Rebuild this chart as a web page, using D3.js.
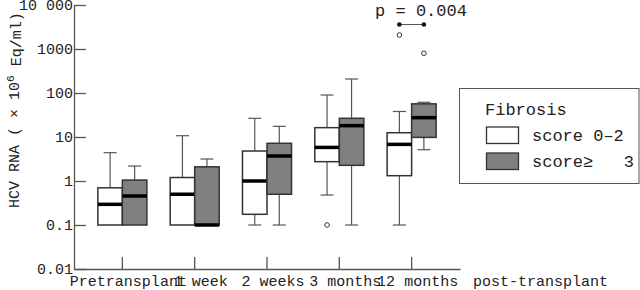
<!DOCTYPE html>
<html>
<head>
<meta charset="utf-8">
<script src="https://cdn.jsdelivr.net/npm/d3@7"></script>
<style>
    body { margin: 0; background: #fff; }
    svg text { font-family: "Liberation Mono", "Courier New", monospace; fill: #222; }
</style>
</head>
<body>
<div id="chart"></div>
<script>

// categories along x
let categories = ["Pretransplant", "1 week", "2 weeks", "3 months", "12 months"];
let groups = ["score 0\u20132", "score\u2265   3"];

// box stats per category: [min, q1, median, q3, max]
let lowScore = [
    [0.1, 0.1, 0.295, 0.70, 4.4],
    [0.1, 0.1, 0.50, 1.2, 10.7],
    [0.1, 0.175, 1.0, 4.8, 26.6],
    [0.48, 2.75, 5.8, 16.3, 90],
    [0.1, 1.32, 6.8, 12.5, 38]
];
let highScore = [
    [0.1, 0.1, 0.456, 1.05, 2.19],
    [0.1, 0.1, 0.1, 2.1, 3.16],
    [0.1, 0.5, 3.7, 7.2, 17.5],
    [0.1, 2.27, 18.1, 26.6, 208],
    [5.15, 9.8, 27.5, 56.7, 61.5]
];

// outliers: [category index, group index, value]
let outliers = [
    [3, 0, 0.1],
    [4, 0, 2080],
    [4, 1, 800]
];

let yTicks = [0.01, 0.1, 1, 10, 100, 1000, 10000];
let yTickLabels = ["0.01", "0.1", "1", "10", "100", "1000", "10 000"];

let pValue = {category: 4, value: 3600, label: "p = 0.004"};

let fills = ["#ffffff", "#808080"];

let width = 640, height = 290;

let svg = d3.select("#chart").append("svg")
    .attr("width", width)
    .attr("height", height);

// scales
let x = d3.scaleBand()
    .domain(categories)
    .range([74, 460])
    .paddingInner(0.322)
    .paddingOuter(0.33);

let xSub = d3.scaleBand()
    .domain(groups)
    .range([0, x.bandwidth()]);

let y = d3.scaleLog()
    .domain([0.01, 10000])
    .range([269, 5]);

// axes
let yAxis = d3.axisLeft(y)
    .tickValues(yTicks)
    .tickFormat((d, i) => yTickLabels[i])
    .tickSizeInner(-12)
    .tickSizeOuter(0)
    .tickPadding(1);

let xAxis = d3.axisBottom(x)
    .tickSizeInner(-12)
    .tickSizeOuter(0)
    .tickPadding(6);

let yAxisGroup = svg.append("g")
    .attr("transform", "translate(74,0)")
    .call(yAxis);

let xAxisGroup = svg.append("g")
    .attr("transform", "translate(0,269)")
    .call(xAxis);

[yAxisGroup, xAxisGroup].forEach(g => {
    g.select(".domain").attr("stroke", "#555").attr("stroke-width", 1.3);
    g.selectAll(".tick line").attr("stroke", "#555").attr("stroke-width", 1.3);
    g.selectAll("text")
        .style("font-family", "'Liberation Mono', 'Courier New', monospace")
        .style("font-size", "15px")
        .attr("fill", "#222");
});

xAxisGroup.selectAll(".tick text").attr("x", 6);

svg.append("text")
    .attr("x", 473)
    .attr("y", 286)
    .style("font-size", "15px")
    .text("post-transplant");

// y title
let yTitle = svg.append("text")
    .attr("transform", "translate(19,208) rotate(-90)")
    .style("font-size", "15px");
yTitle.append("tspan").text("HCV RNA ( \u00d7 10");
yTitle.append("tspan").attr("dy", "-0.5em").style("font-size", "11px").text("6");
yTitle.append("tspan").attr("dy", "0.5em").text(" Eq/ml)");

// boxes
let boxData = [];
categories.forEach((c, i) => {
    [lowScore[i], highScore[i]].forEach((s, j) => {
        boxData.push({cat: c, group: groups[j], gi: j, min: s[0], q1: s[1], med: s[2], q3: s[3], max: s[4]});
    });
});

let bw = xSub.bandwidth();
let cx = d => x(d.cat) + xSub(d.group) + bw / 2;
let capW = 13;

let boxes = svg.selectAll(".box")
    .data(boxData)
    .enter().append("g")
    .attr("class", "box");

// whiskers
boxes.filter(d => d.max > d.q3).append("line")
    .attr("x1", cx).attr("x2", cx)
    .attr("y1", d => y(d.q3)).attr("y2", d => y(d.max))
    .attr("stroke", "#555").attr("stroke-width", 1.2);
boxes.filter(d => d.max > d.q3).append("line")
    .attr("x1", d => cx(d) - capW / 2).attr("x2", d => cx(d) + capW / 2)
    .attr("y1", d => y(d.max)).attr("y2", d => y(d.max))
    .attr("stroke", "#555").attr("stroke-width", 1.2);
boxes.filter(d => d.min < d.q1).append("line")
    .attr("x1", cx).attr("x2", cx)
    .attr("y1", d => y(d.q1)).attr("y2", d => y(d.min))
    .attr("stroke", "#555").attr("stroke-width", 1.2);
boxes.filter(d => d.min < d.q1).append("line")
    .attr("x1", d => cx(d) - capW / 2).attr("x2", d => cx(d) + capW / 2)
    .attr("y1", d => y(d.min)).attr("y2", d => y(d.min))
    .attr("stroke", "#555").attr("stroke-width", 1.2);

boxes.append("rect")
    .attr("x", d => x(d.cat) + xSub(d.group))
    .attr("width", bw)
    .attr("y", d => y(d.q3))
    .attr("height", d => y(d.q1) - y(d.q3))
    .attr("fill", d => fills[d.gi])
    .attr("stroke", "#333")
    .attr("stroke-width", 1.5);

boxes.append("line")
    .attr("x1", d => x(d.cat) + xSub(d.group))
    .attr("x2", d => x(d.cat) + xSub(d.group) + bw)
    .attr("y1", d => y(d.med)).attr("y2", d => y(d.med))
    .attr("stroke", "#000").attr("stroke-width", 3.5);

// outliers
svg.selectAll(".outlier")
    .data(outliers)
    .enter().append("circle")
    .attr("class", "outlier")
    .attr("cx", d => x(categories[d[0]]) + xSub(groups[d[1]]) + bw / 2)
    .attr("cy", d => y(d[2]))
    .attr("r", 2.3)
    .attr("fill", "none")
    .attr("stroke", "#333")
    .attr("stroke-width", 1);

// p-value bracket
let px1 = x(categories[pValue.category]) + xSub(groups[0]) + bw / 2;
let px2 = x(categories[pValue.category]) + xSub(groups[1]) + bw / 2;
let py = y(pValue.value);
svg.append("line")
    .attr("x1", px1).attr("x2", px2)
    .attr("y1", py).attr("y2", py)
    .attr("stroke", "#555").attr("stroke-width", 1);
svg.selectAll(".pdot")
    .data([px1, px2])
    .enter().append("circle")
    .attr("cx", d => d).attr("cy", py).attr("r", 2.3)
    .attr("fill", "#111");
svg.append("text")
    .attr("x", 421)
    .attr("y", py - 9)
    .attr("text-anchor", "middle")
    .style("font-size", "17px")
    .text(pValue.label);

// legend
let legend = svg.append("g");
legend.append("rect")
    .attr("x", 459.5).attr("y", 88.5)
    .attr("width", 179.5).attr("height", 95)
    .attr("fill", "#fff")
    .attr("stroke", "#555")
    .attr("stroke-width", 1);
legend.append("text")
    .attr("x", 485).attr("y", 115)
    .style("font-size", "17px")
    .text("Fibrosis");
groups.forEach((g, i) => {
    legend.append("rect")
        .attr("x", 486.5).attr("y", 127 + i * 26)
        .attr("width", 32).attr("height", 16.5)
        .attr("fill", fills[i])
        .attr("stroke", "#333")
        .attr("stroke-width", 1.3);
    legend.append("text")
        .attr("x", 532).attr("y", 141 + i * 26)
        .style("font-size", "17px")
        .style("white-space", "pre")
        .text(g);
});

</script>
</body>
</html>
